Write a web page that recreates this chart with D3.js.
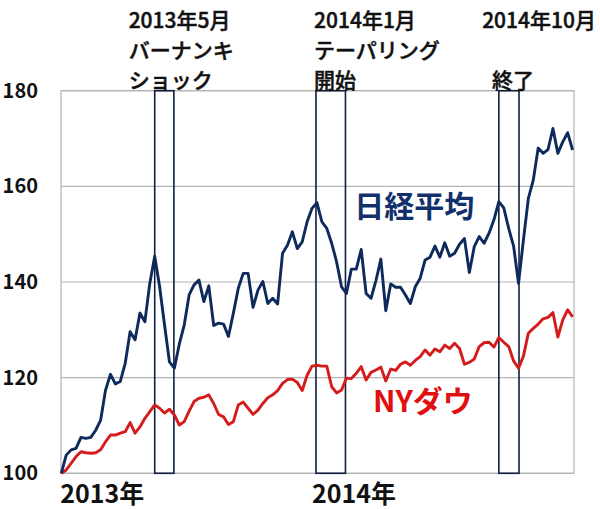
<!DOCTYPE html>
<html><head><meta charset="utf-8">
<script src="https://cdn.jsdelivr.net/npm/d3@7"></script>
<style>body{margin:0;background:#fff}svg{display:block}</style>
</head><body><svg id="c" width="600" height="509"></svg>
<script>
// weekly index-based data, Jan 2013 (week 0) to Dec 2014 (week 104)
const nikkei = [100,103.8,104.9,105.2,107.5,107.3,107.5,109,111.1,117.4,120.7,118.7,119.2,123,129.6,127.9,133.5,131.7,139.7,145.4,
139,131,123.3,122,127,131,137.3,139.4,140.4,135.9,139.2,130.9,131.4,131.2,128.6,133.5,138.7,141.8,141.8,134.7,
138.3,140.1,135.5,136.6,135.4,146,147.7,150.5,147,148.4,152.6,155.4,156.6,152.6,151.2,148.1,144.2,139,137.6,142.7,
142.7,146.8,137.6,136.6,140.3,144.8,134,139.6,138.9,138.9,137.3,135.5,139,140.8,144.6,145.2,147.5,145.2,148.2,145.4,
146,147.9,149.1,142,147.4,149.5,148.1,150.2,153,156.8,155.5,151.2,147.5,139.7,148.8,157.5,161.3,168,166.9,167.7,
172.1,166.9,169.3,171.2,167.6];
const dow = [100,100.7,102.1,103.5,104.5,104.3,104.2,104.3,104.9,106.6,108,108,108.4,108.7,110.6,108.4,109.7,111.5,112.9,114.3,
113.6,112.6,113.4,112.2,110.1,110.8,113,115,115.7,115.9,116.4,114.6,112.3,111.8,110.2,110.8,114.3,114.9,113.6,112.3,
113.2,114.6,115.8,116.4,117.3,118.8,119.6,119.7,119,117.3,120.5,122.4,122.6,122.4,122.4,118.1,116.8,117.4,119.9,119.8,
120.9,122.3,119.5,121.1,121.6,122.2,119.3,121.8,121.5,122.8,123.3,122.6,123.6,124.4,125.8,124.7,126,125.4,126.8,126.1,
127.2,126.1,122.8,123.2,123.9,126.5,127.3,127.4,126.4,128.4,127.4,126.5,123.5,122,124.5,129.3,130.3,131.2,132.3,132.6,
133.6,128.5,132.1,134.2,132.7];
const yTicks = [100,120,140,160,180];
const yearLabels = [{w:0,t:"2013年"},{w:51.2,t:"2014年"}];
const events = [
  {s:19,e:22.9,lines:["2013年5月","バーナンキ","ショック"], lw:[13.7,13.7,13.7]},
  {s:51.8,e:57.8,lines:["2014年1月","テーパリング","開始"], lw:[51.4,51.4,51.4]},
  {s:89,e:93.1,lines:["2014年10月","","終了"], lw:[85.6,85.6,87.6]}
];
const seriesNames = [{t:"日経平均", w:59.6, v:155.3, c:"#12306a"},{t:"NYダウ", w:63.4, v:114.6, c:"#e01010"}];

const svg = d3.select("#c");
const x = d3.scaleLinear().domain([0,104]).range([61.3,572.6]);
const y = d3.scaleLinear().domain([100,180]).range([473.3,90.7]);
const left=61, right=574;
const font = "'Noto Sans CJK JP','Noto Sans',sans-serif";

// gridlines
svg.append("g").selectAll("line").data(yTicks).join("line")
  .attr("x1",left).attr("x2",right).attr("y1",d=>y(d)).attr("y2",d=>y(d))
  .attr("stroke","#b4b4b4").attr("stroke-width",1.2);
// plot border
svg.append("rect").attr("x",left).attr("y",y(180)).attr("width",right-left).attr("height",y(100)-y(180))
  .attr("fill","none").attr("stroke","#b4b4b4").attr("stroke-width",1.2);

// y labels
const yAxis = d3.axisLeft(y).tickValues(yTicks).tickSize(0).tickPadding(0);
const ya = svg.append("g").attr("transform","translate(38,0)").call(yAxis);
ya.select(".domain").remove();
ya.selectAll("text").attr("font-size",20).attr("font-weight","bold").attr("font-family",font).attr("fill","#111");

// year labels
svg.append("g").selectAll("text").data(yearLabels).join("text")
  .attr("x",d=>x(d.w)-1).attr("y",503).text(d=>d.t)
  .attr("font-size",25).attr("font-weight","bold").attr("font-family",font).attr("fill","#111");

// event boxes
svg.append("g").selectAll("rect").data(events).join("rect")
  .attr("x",d=>x(d.s)).attr("width",d=>x(d.e)-x(d.s))
  .attr("y",y(180)).attr("height",y(100)-y(180))
  .attr("fill","none").attr("stroke","#0e1f3f").attr("stroke-width",1.6);

// event annotations
const ev = svg.append("g");
events.forEach(d=>{
  d.lines.forEach((t,i)=>{
    ev.append("text").attr("x",x(d.lw[i])).attr("y",28+i*30).text(t)
      .attr("font-size",21).attr("font-weight",500).attr("font-family",font)
      .attr("fill","#111").attr("stroke","#111").attr("stroke-width",0.45);
  });
});

// lines
const line = d3.line().x((d,i)=>x(i)).y(d=>y(d));
svg.append("path").datum(dow).attr("d",line).attr("fill","none").attr("stroke","#d41c1c").attr("stroke-width",2.9).attr("stroke-linejoin","round");
svg.append("path").datum(nikkei).attr("d",line).attr("fill","none").attr("stroke","#0e2a5c").attr("stroke-width",2.9).attr("stroke-linejoin","round");

// series labels
svg.append("g").selectAll("text").data(seriesNames).join("text")
  .attr("x",d=>x(d.w)).attr("y",d=>y(d.v)).text(d=>d.t)
  .attr("font-size",30).attr("font-weight","bold").attr("font-family",font).attr("fill",d=>d.c)
  .attr("dominant-baseline","middle");
</script></body></html>
